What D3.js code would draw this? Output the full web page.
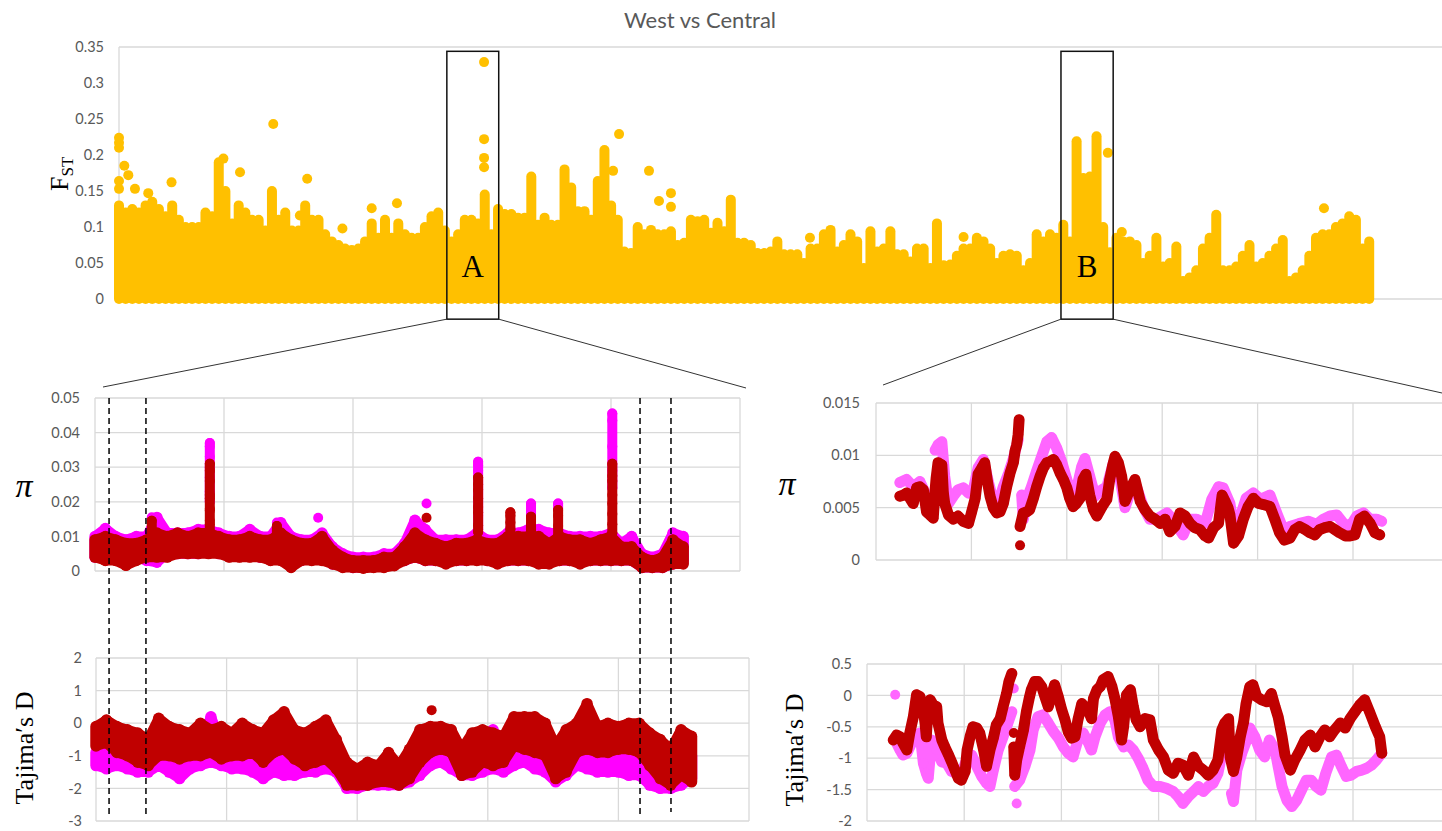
<!DOCTYPE html>
<html>
<head>
<meta charset="utf-8">
<script src="https://cdn.jsdelivr.net/npm/d3@7"></script>
<style>
  body { margin: 0; background: #fff; }
  svg { display: block; }
</style>
</head>
<body>
<svg id="chart" width="1442" height="831"></svg>
<script>
// ---------------- Data ----------------
// Genome-wide FST scan: per-window envelope (max FST in each window, window index 0..188)
const fstEnvelope = [
  0.13,0.12,0.125,0.12,0.13,0.135,0.125,0.115,0.13,0.11,
  0.1,0.1,0.1,0.12,0.115,0.19,0.15,0.105,0.13,0.12,
  0.11,0.11,0.095,0.15,0.11,0.12,0.095,0.095,0.13,0.11,
  0.11,0.09,0.08,0.075,0.07,0.068,0.07,0.08,0.105,0.085,
  0.11,0.085,0.105,0.09,0.085,0.085,0.1,0.115,0.12,0.095,
  0.08,0.09,0.11,0.11,0.105,0.145,0.09,0.125,0.118,0.118,
  0.113,0.113,0.17,0.103,0.113,0.103,0.103,0.18,0.155,0.122,
  0.122,0.11,0.164,0.207,0.13,0.11,0.066,0.064,0.1,0.09,
  0.096,0.09,0.09,0.094,0.075,0.078,0.11,0.108,0.11,0.092,
  0.106,0.094,0.138,0.078,0.078,0.075,0.064,0.064,0.066,0.08,
  0.062,0.062,0.062,0.05,0.07,0.07,0.09,0.096,0.066,0.075,
  0.09,0.08,0.043,0.094,0.066,0.07,0.094,0.062,0.062,0.052,
  0.07,0.07,0.043,0.105,0.047,0.048,0.06,0.07,0.07,0.085,
  0.08,0.07,0.05,0.06,0.062,0.06,0.04,0.05,0.09,0.08,
  0.09,0.085,0.103,0.08,0.219,0.168,0.17,0.226,0.1,0.065,
  0.085,0.08,0.08,0.075,0.05,0.06,0.085,0.045,0.05,0.073,
  0.025,0.03,0.04,0.07,0.085,0.117,0.04,0.04,0.045,0.06,
  0.075,0.045,0.05,0.06,0.07,0.082,0.025,0.03,0.04,0.06,
  0.085,0.09,0.09,0.1,0.105,0.115,0.11,0.07,0.08
];
// Isolated high-FST windows [window index, FST]
const fstOutliers = [
  [0,0.224],[0,0.217],[0,0.21],[0,0.164],[0,0.153],[0.8,0.185],[1.4,0.172],[2.4,0.153],
  [4.4,0.147],[7.9,0.162],[15.7,0.195],[18.2,0.176],[23.2,0.243],[27.2,0.116],[28.3,0.167],
  [33.6,0.098],[38,0.126],[41.8,0.133],[54.9,0.329],[54.9,0.222],[54.9,0.196],[54.9,0.183],
  [74.3,0.178],[75.2,0.229],[79.7,0.178],[81.2,0.136],[83,0.147],[83,0.128],[103.9,0.085],
  [127,0.086],[148.7,0.203],[150.8,0.093],[181.2,0.126]
];
// Highlighted regions (window index span)
const regionA = [49.3, 57.1];
const regionB = [141.65, 149.5];

// Region A: range of window values (high / low) in 8 kb bins starting at 0 kb
const binA = 8;
const piWestHiA = [0.01,0.0123,0.01,0.009,0.01,0.01,0.0155,0.011,0.011,0.011,0.012,0.012,0.011,0.01,0.01,0.012,0.01,0.01,0.014,0.01,0.009,0.009,0.011,0.007,0.005,0.004,0.004,0.004,0.005,0.005,0.008,0.0147,0.012,0.009,0.009,0.009,0.009,0.011,0.009,0.009,0.011,0.011,0.012,0.012,0.011,0.011,0.01,0.01,0.01,0.01,0.011,0.008,0.01,0.005,0.004,0.005,0.011,0.01];
const piWestLoA = [0.004,0.004,0.004,0.003,0.004,0.003,0.0025,0.005,0.005,0.005,0.005,0.006,0.005,0.005,0.005,0.005,0.004,0.004,0.004,0.002,0.003,0.004,0.004,0.002,0.0015,0.001,0.001,0.0015,0.0015,0.002,0.003,0.004,0.003,0.003,0.003,0.003,0.003,0.004,0.003,0.003,0.003,0.003,0.003,0.003,0.003,0.003,0.003,0.003,0.003,0.003,0.003,0.003,0.003,0.001,0.001,0.001,0.002,0.003];
const piCentralHiA = [0.009,0.01,0.009,0.008,0.008,0.009,0.011,0.01,0.011,0.01,0.011,0.011,0.01,0.009,0.009,0.01,0.009,0.009,0.011,0.009,0.008,0.008,0.01,0.006,0.004,0.003,0.003,0.003,0.004,0.004,0.007,0.011,0.009,0.008,0.007,0.008,0.008,0.009,0.008,0.008,0.01,0.01,0.01,0.01,0.008,0.01,0.009,0.009,0.008,0.009,0.01,0.007,0.007,0.004,0.003,0.004,0.009,0.007];
const piCentralLoA = [0.004,0.003,0.003,0.0016,0.003,0.004,0.004,0.004,0.005,0.005,0.005,0.005,0.005,0.004,0.004,0.004,0.004,0.003,0.003,0.001,0.003,0.003,0.003,0.002,0.001,0.001,0.0008,0.001,0.001,0.0015,0.003,0.004,0.003,0.003,0.002,0.003,0.003,0.003,0.003,0.002,0.003,0.003,0.003,0.002,0.002,0.003,0.003,0.002,0.003,0.003,0.003,0.003,0.003,0.001,0.001,0.001,0.002,0.002];
// Windows inside diversity peaks [kb, pi]
const piPeaksWestA = [[44,0.0155],[89,0.037],[89,0.036],[89,0.033],[89,0.03],[89,0.027],[89,0.023],[89,0.02],[141,0.014],[173,0.0154],[257,0.0195],[297,0.0316],[297,0.0305],[297,0.029],[297,0.016],[297,0.012],[322,0.0125],[338,0.0195],[338,0.0165],[359,0.0195],[359,0.018],[401,0.0455],[401,0.0435],[401,0.036],[401,0.029],[401,0.024],[416,0.01]];
const piPeaksCentralA = [[44,0.0145],[44,0.011],[89,0.031],[89,0.029],[89,0.026],[89,0.022],[89,0.021],[89,0.018],[89,0.0175],[89,0.0145],[89,0.0135],[89,0.011],[141,0.013],[141,0.011],[257,0.0154],[297,0.027],[297,0.025],[297,0.0235],[297,0.021],[297,0.0185],[297,0.017],[297,0.0132],[297,0.0113],[322,0.017],[322,0.016],[322,0.014],[322,0.012],[338,0.0157],[338,0.0133],[338,0.0115],[359,0.0176],[359,0.016],[359,0.013],[359,0.01],[401,0.031],[401,0.0275],[401,0.026],[401,0.022],[401,0.0195],[401,0.0165],[401,0.0135],[401,0.011]];
const tajWestHiA = [-0.9,-0.9,-0.9,-1.0,-1.0,-0.9,-0.8,-0.8,-0.9,-0.8,-0.6,0.2,-0.6,-0.7,-0.6,-0.7,-0.8,-0.5,-0.7,-0.8,-0.8,-0.9,-0.8,-0.9,-1.5,-1.6,-1.5,-1.5,-1.4,-1.5,-1.2,-0.8,-0.7,-0.6,-0.7,-1.0,-0.9,-0.8,-0.2,-0.8,-0.5,-0.6,-0.6,-0.7,-1.0,-0.8,-0.8,-0.7,-0.8,-0.8,-0.9,-0.8,-0.9,-1.3,-1.5,-1.5,-1.2,-1.0];
const tajWestLoA = [-1.3,-1.4,-1.3,-1.4,-1.5,-1.5,-1.3,-1.5,-1.7,-1.4,-1.3,-1.2,-1.3,-1.4,-1.4,-1.5,-1.7,-1.5,-1.6,-1.6,-1.5,-1.5,-1.4,-1.5,-2.0,-2.0,-1.9,-1.9,-1.9,-1.9,-1.8,-1.6,-1.3,-1.2,-1.4,-1.6,-1.6,-1.5,-1.4,-1.5,-1.3,-1.2,-1.4,-1.5,-1.8,-1.6,-1.3,-1.4,-1.5,-1.5,-1.5,-1.6,-1.6,-1.9,-2.0,-2.0,-1.9,-1.7];
const tajCentralHiA = [-0.1,0.1,-0.1,-0.2,-0.3,-0.5,0.15,-0.1,-0.2,-0.3,0.0,-0.2,-0.1,-0.3,0.0,-0.2,-0.3,0.1,0.35,-0.2,-0.3,-0.1,0.1,-0.5,-1.2,-1.4,-1.2,-1.3,-0.9,-1.3,-0.8,-0.2,-0.1,-0.1,-0.2,-0.8,-0.3,-0.2,-0.3,-0.4,0.2,0.2,0.2,0.0,-0.7,-0.2,0.0,0.6,-0.1,0.0,-0.1,0.0,0.0,-0.3,-0.5,-0.8,-0.2,-0.4];
const tajCentralLoA = [-0.7,-0.6,-0.9,-1.0,-1.2,-1.3,-1.0,-1.0,-1.1,-1.0,-1.0,-0.9,-1.1,-1.0,-1.0,-0.9,-1.2,-0.9,-0.8,-1.1,-1.3,-1.2,-1.1,-1.4,-1.9,-1.9,-1.9,-1.8,-1.8,-1.9,-1.7,-1.2,-0.9,-0.8,-0.9,-1.6,-1.5,-1.2,-1.3,-1.2,-0.7,-0.8,-0.9,-1.0,-1.7,-1.5,-0.9,-0.8,-0.9,-0.9,-0.8,-0.8,-0.9,-1.3,-1.7,-1.9,-1.6,-1.8];
const tajPeaksCentralA = [[257,0.4]];
// Sweep boundaries marked in region A (kb)
const sweepMarksA = [10.9, 39.5, 422.5, 446.5];

// Region B: [kb, value] along each chain, plus isolated windows
const piWestB = [[25,0.0074],[32,0.0077],[39,0.007],[46,0.0075],[53,0.0061],[58,0.0051],[62,0.0105],[65,0.011],[69,0.0113],[72,0.008],[76,0.0054],[81,0.0061],[86,0.0067],[91.5,0.0069],[97,0.0064],[102,0.0067],[107,0.0088],[112.5,0.0096],[118,0.0074],[123,0.0056],[128,0.0054],[133.5,0.007],[139,0.0083],[144,0.0097],[149,0.0115],[152.7,0.0062],[154.4,0.0039],[158,0.0058],[163,0.007],[168.4,0.0085],[173.7,0.0099],[179,0.0113],[184,0.0117],[189.4,0.0107],[194.6,0.0094],[200,0.0077],[205,0.0062],[210,0.0067],[215.6,0.0089],[219,0.0097],[224,0.008],[229.6,0.0061],[235,0.0066],[242,0.007],[248.8,0.0093],[256,0.0077],[261,0.005],[268,0.0069],[273,0.007],[280,0.0051],[287,0.0039],[294,0.0039],[305,0.0045],[311,0.0039],[322,0.0024],[329,0.0039],[336,0.0039],[345,0.0035],[352,0.0058],[359,0.007],[364,0.0069],[371,0.0054],[374.8,0.0032],[382,0.0042],[388,0.0059],[395.6,0.0064],[403,0.0058],[413,0.0062],[420,0.0045],[427,0.0029],[434,0.0032],[444,0.0035],[453,0.0037],[462,0.0034],[469,0.0039],[476,0.0042],[483,0.0043],[490,0.0035],[497,0.0032],[504,0.0042],[511,0.0045],[518,0.0039],[525,0.0039],[530,0.0037]];
const piCentralB = [[25,0.0061],[28.7,0.0062],[32,0.0064],[35.6,0.0059],[39,0.0054],[42.6,0.0069],[46,0.007],[49.6,0.0067],[53,0.0046],[56.6,0.0043],[60,0.004],[62,0.0067],[63,0.0078],[65,0.0093],[67,0.0092],[69,0.0091],[70.6,0.0064],[72,0.0054],[76,0.0043],[81,0.0039],[86,0.0042],[91.5,0.0037],[97,0.0035],[100,0.0045],[104,0.0059],[107,0.0082],[111,0.0088],[114,0.0093],[117,0.0074],[119.5,0.0061],[123,0.005],[126.5,0.0045],[130,0.0046],[133.5,0.0054],[137,0.007],[140.5,0.0083],[144,0.0093],[145.7,0.0104],[147.5,0.011],[149,0.012],[150,0.0134],[151,0.0032],[154.4,0.0045],[158,0.0046],[161,0.0048],[165,0.0059],[168.4,0.007],[172,0.008],[175.4,0.0088],[179,0.0093],[182.4,0.0094],[186,0.0096],[189.4,0.0091],[193,0.0083],[196.4,0.0077],[200,0.0069],[203,0.0059],[206.6,0.0051],[210,0.0054],[213.8,0.0059],[217,0.0077],[220,0.0082],[224,0.0062],[228,0.0048],[231.5,0.0042],[237,0.0051],[242,0.0058],[245,0.0077],[248,0.009],[250.5,0.0099],[254,0.0093],[257.5,0.008],[259,0.007],[261,0.0056],[266,0.0067],[271.5,0.0077],[277,0.0056],[282,0.0048],[287,0.0042],[292.5,0.0039],[298,0.0035],[303,0.0039],[308,0.0027],[313.4,0.0032],[318.7,0.0045],[324,0.0042],[329,0.0035],[334,0.0031],[339.6,0.0029],[345,0.0023],[348.6,0.0021],[354,0.0031],[359,0.0035],[362.8,0.0062],[366,0.0056],[369,0.005],[371,0.0043],[374.8,0.0016],[380,0.0023],[385,0.0039],[390,0.0051],[395.6,0.0059],[401,0.0054],[406,0.0053],[413,0.0051],[418,0.0039],[423,0.0026],[428,0.0019],[434,0.0021],[439,0.0029],[444,0.0032],[450,0.0029],[455,0.0026],[460,0.0024],[465,0.0029],[470.6,0.0031],[476,0.0032],[481,0.0029],[486,0.0026],[492,0.0023],[497,0.0023],[502,0.0024],[507,0.0039],[512,0.0042],[518,0.0035],[523,0.0026],[528,0.0024]];
const piCentralSinglesB = [[151,0.0014]];
const tajWestB = [[30.5,-0.76],[34,-0.87],[37,-0.95],[41,-0.92],[44,-0.82],[49,-0.66],[54.5,-0.6],[58,-1.08],[61,-1.24],[63,-1.32],[66.5,-0.71],[71.7,-0.87],[77,-1.06],[82,-1.08],[87,-1.21],[92,-1.24],[97,-1.24],[102.5,-1.03],[107.7,-0.95],[113,-1.13],[118,-1.29],[123,-1.4],[126.5,-1.45],[130,-1.19],[135,-0.87],[140,-0.66],[145,-0.44],[149,-0.26],[152,-1.45],[157,-1.35],[162.5,-1.13],[167.7,-0.87],[171,-0.55],[176,-0.34],[181,-0.31],[186.5,-0.44],[192,-0.58],[197,-0.68],[202,-0.82],[207,-0.92],[212,-0.98],[217,-0.71],[222.5,-0.6],[228,-0.76],[231,-0.87],[234.6,-0.66],[240,-0.44],[245,-0.31],[250,-0.26],[255,-0.39],[258.6,-0.66],[264,-0.82],[269,-0.79],[274,-0.87],[279,-1.0],[284,-1.16],[289,-1.35],[294.6,-1.45],[301.5,-1.45],[308,-1.48],[315,-1.53],[320,-1.61],[325,-1.72],[330.6,-1.61],[336,-1.53],[341,-1.45],[346,-1.53],[351,-1.45],[356,-1.4],[361,-1.24],[366,-0.87],[371,-0.92],[375,-1.56],[377,-1.69],[380.5,-1.19],[385.6,-0.92],[390.6,-0.71],[394,-0.52],[399,-0.66],[404,-0.87],[409,-0.98],[414,-0.71],[419.8,-0.87],[423,-1.13],[427,-1.45],[432,-1.67],[437,-1.77],[442,-1.67],[447,-1.51],[452,-1.35],[457,-1.35],[462,-1.45],[467,-1.51],[472,-1.24],[478,-0.98],[483,-0.95],[488,-1.13],[493,-1.29],[498,-1.27],[503.8,-1.21],[509,-1.19],[514,-1.16],[519,-1.11],[524,-1.03],[529.6,-0.92]];
const tajWestSinglesB = [[29,0.01],[151,0.11],[154,-1.72]];
const tajCentralB = [[27,-0.71],[30.5,-0.63],[34,-0.66],[37,-0.76],[41,-0.87],[44,-0.6],[47.7,-0.34],[51,0.01],[54.5,-0.02],[58,-0.23],[59.7,-0.44],[61,-0.66],[63,-0.13],[65,-0.07],[68,-0.15],[71.7,-0.18],[73,-0.44],[77,-0.71],[80,-0.82],[84,-0.95],[87,-1.06],[90.5,-1.19],[94,-1.32],[97,-1.35],[101,-1.21],[103,-0.87],[106,-0.66],[109,-0.5],[113,-0.52],[116,-0.6],[120,-0.87],[123,-1.13],[126.5,-0.87],[130,-0.68],[133,-0.47],[137,-0.37],[140,-0.18],[143.6,0.03],[146,0.22],[149,0.35],[151,-0.82],[152,-1.27],[154,-1.03],[157,-0.82],[161,-0.55],[164,-0.26],[166.8,-0.05],[169,0.09],[172.5,0.22],[176,0.22],[179.7,0.14],[183,-0.02],[186.5,-0.18],[190,0.01],[193,0.17],[196.8,-0.02],[200,-0.21],[203.7,-0.39],[207,-0.58],[210.5,-0.68],[214,-0.66],[217,-0.39],[221,-0.13],[224,-0.18],[228,-0.26],[231,-0.37],[233,-0.05],[236.6,0.09],[240,0.14],[243,0.25],[248,0.3],[252,0.14],[255,-0.05],[258.6,-0.34],[262,-0.71],[264,-0.5],[267,0.01],[271,0.09],[274,-0.18],[277,-0.39],[281,-0.5],[286,-0.37],[291,-0.39],[294.6,-0.71],[300,-0.87],[305,-0.98],[310,-1.19],[315,-1.24],[320,-1.08],[325,-1.11],[330.6,-1.27],[336,-0.98],[341,-1.13],[346,-1.19],[351,-1.27],[356,-1.19],[361,-1.03],[365,-0.55],[368,-0.44],[372,-0.37],[373.6,-0.98],[377,-1.21],[380.5,-0.98],[384,-0.66],[387.5,-0.42],[390,-0.13],[393.8,0.14],[397,0.17],[401,-0.02],[406,-0.07],[411,-0.1],[416,0.03],[419.8,-0.18],[423,-0.34],[427,-0.66],[430,-0.95],[435.6,-1.19],[440,-1.03],[445.6,-0.87],[450.6,-0.71],[456,-0.63],[461,-0.82],[466,-0.66],[471,-0.55],[476,-0.66],[481,-0.55],[487,-0.44],[492,-0.52],[497,-0.37],[502,-0.26],[507,-0.15],[512,-0.07],[517,-0.26],[523,-0.5],[527.5,-0.66],[529.6,-0.92]];
const tajCentralSinglesB = [[151,-0.6]];

// Axis ticks
const fstTicks = [0, 0.05, 0.1, 0.15, 0.2, 0.25, 0.3, 0.35];
const piTicksA = [0, 0.01, 0.02, 0.03, 0.04, 0.05];
const tajTicksA = [-3, -2, -1, 0, 1, 2];
const piTicksB = [0, 0.005, 0.01, 0.015];
const tajTicksB = [-2, -1.5, -1, -0.5, 0, 0.5];
const posTicksA = [0, 100, 200, 300, 400, 500];
const posTicksB = [0, 100, 200, 300, 400, 500, 600];

// ---------------- Style ----------------
const C = {
  fst: "#FFC000", west: "#FF00FF", westLight: "#FF66FF", central: "#C00000",
  grid: "#D9D9D9", tick: "#595959", ink: "#000000"
};
const SANS = "Lato, 'Liberation Sans', sans-serif";
const SERIF = "'Liberation Serif', 'DejaVu Serif', serif";
const R = 5; // marker radius

const svg = d3.select("#chart");
const W = 1442;

// ---------------- Helpers ----------------
function leftLabels(x0, y, ticks, pad) {
  const g = svg.append("g").attr("transform", `translate(${x0},0)`)
    .call(d3.axisLeft(y).tickValues(ticks).tickFormat(String).tickSize(0).tickPadding(pad));
  g.select(".domain").remove();
  g.selectAll("text").attr("fill", C.tick).attr("font-family", SANS).attr("font-size", 14.5);
  return g;
}

function grid(x, y, xTicks, yTicks) {
  const [xa, xb] = x.range();
  const [yb, ya] = y.range();
  const g = svg.append("g").attr("stroke", C.grid).attr("stroke-width", 1.3);
  g.selectAll(".h").data(yTicks).join("line")
    .attr("x1", xa).attr("x2", Math.min(xb, W + 5))
    .attr("y1", d => y(d)).attr("y2", d => y(d));
  g.selectAll(".v").data(xTicks.filter(t => x(t) <= W + 2)).join("line")
    .attr("x1", d => x(d)).attr("x2", d => x(d))
    .attr("y1", ya).attr("y2", yb);
}

function dots(g, data, x, y, color) {
  g.append("g").attr("fill", color)
    .selectAll("circle").data(data).join("circle")
    .attr("cx", d => x(d[0])).attr("cy", d => y(d[1])).attr("r", R);
}

// Densely overlapping markers of consecutive windows: a marker-wide stroke
// joins neighbours, broken where the gap (in px) is too large.
function chain(data, x, y, color, maxDx, maxDist, width = 2 * R) {
  const g = svg.append("g");
  const runs = [];
  let cur = [];
  data.forEach((d, i) => {
    if (i > 0) {
      const p = data[i - 1];
      const dx = Math.abs(x(d[0]) - x(p[0]));
      const dist = Math.hypot(dx, y(d[1]) - y(p[1]));
      if (dx > maxDx || dist > maxDist) { runs.push(cur); cur = []; }
    }
    cur.push(d);
  });
  runs.push(cur);
  const line = d3.line().x(d => x(d[0])).y(d => y(d[1]));
  g.append("g").attr("fill", "none").attr("stroke", color).attr("stroke-width", width)
    .attr("stroke-linecap", "round").attr("stroke-linejoin", "round")
    .selectAll("path").data(runs.filter(r => r.length > 1)).join("path")
    .attr("d", line);
  dots(g, data, x, y, color);
}

// Dense cloud of windows: each bin spans its low..high values with marker-wide
// columns; the upper and lower edges are traced with overlapping markers.
function band(hi, lo, step, x, y, color) {
  const g = svg.append("g");
  const bins = hi.map((h, k) => ({ p: k * step, hi: h, lo: lo[k] }));
  const colW = Math.abs(x(step) - x(0)) + 1;
  // filled body between the traced edges
  g.append("path").attr("fill", color)
    .attr("d", d3.area().x(d => x(d.p)).y0(d => y(d.lo)).y1(d => y(d.hi))(bins));
  g.append("g").attr("stroke", color).attr("stroke-width", Math.max(2 * R, colW)).attr("stroke-linecap", "round")
    .selectAll("line").data(bins).join("line")
    .attr("x1", d => x(d.p)).attr("x2", d => x(d.p))
    .attr("y1", d => y(d.lo)).attr("y2", d => y(d.hi));
  const edge = d3.line().x(d => x(d[0])).y(d => y(d[1]));
  g.append("g").attr("fill", "none").attr("stroke", color).attr("stroke-width", 2 * R)
    .attr("stroke-linejoin", "round").attr("stroke-linecap", "round")
    .selectAll("path").data([bins.map(d => [d.p, d.hi]), bins.map(d => [d.p, d.lo])]).join("path")
    .attr("d", edge);
  dots(g, bins.map(d => [d.p, d.hi]).concat(bins.map(d => [d.p, d.lo])), x, y, color);
}

// ---------------- Title ----------------
svg.append("text").attr("x", 700).attr("y", 28).attr("text-anchor", "middle")
  .attr("font-family", SANS).attr("font-size", 22).attr("fill", C.tick)
  .text("West vs Central");

// ---------------- Genome-wide FST ----------------
const xFst = d3.scaleLinear().domain([0, 200]).range([119, 1449]);
const yFst = d3.scaleLinear().domain([0, 0.35]).range([299, 47]);

const frame = svg.append("g").attr("stroke", C.grid).attr("stroke-width", 1.3);
frame.append("line").attr("x1", xFst(0)).attr("x2", W).attr("y1", yFst(0.35)).attr("y2", yFst(0.35));
frame.append("line").attr("x1", xFst(0)).attr("x2", W).attr("y1", yFst(0)).attr("y2", yFst(0));
frame.append("line").attr("x1", xFst(0)).attr("x2", xFst(0)).attr("y1", yFst(0.35)).attr("y2", yFst(0));
leftLabels(xFst(0), yFst, fstTicks, 15);

svg.append("g").attr("stroke", C.fst).attr("stroke-width", 2 * R).attr("stroke-linecap", "round")
  .selectAll("line").data(fstEnvelope).join("line")
  .attr("x1", (d, i) => xFst(i)).attr("x2", (d, i) => xFst(i))
  .attr("y1", yFst(0)).attr("y2", d => yFst(d));
dots(svg, fstOutliers, xFst, yFst, C.fst);

const fLabel = svg.append("text").attr("transform", "translate(68,191) rotate(-90)")
  .attr("font-family", SERIF).attr("font-size", 26).attr("fill", C.ink);
fLabel.append("tspan").text("F");
fLabel.append("tspan").attr("font-size", 17).attr("dy", 5).text("ST");

// region boxes + zoom connectors
const boxTop = yFst(0.344), boxBottom = yFst(-0.028);
[[regionA, "A"], [regionB, "B"]].forEach(([r, name]) => {
  svg.append("rect").attr("x", xFst(r[0])).attr("y", boxTop)
    .attr("width", xFst(r[1]) - xFst(r[0])).attr("height", boxBottom - boxTop)
    .attr("fill", "none").attr("stroke", "#111").attr("stroke-width", 1.5);
  svg.append("text").attr("x", (xFst(r[0]) + xFst(r[1])) / 2).attr("y", 277)
    .attr("text-anchor", "middle").attr("font-family", SERIF).attr("font-size", 31)
    .attr("fill", C.ink).text(name);
});
const conn = svg.append("g").attr("stroke", "#333").attr("stroke-width", 1);
conn.append("line").attr("x1", xFst(regionA[0])).attr("y1", boxBottom).attr("x2", 103).attr("y2", 387);
conn.append("line").attr("x1", xFst(regionA[1])).attr("y1", boxBottom).attr("x2", 746).attr("y2", 388);
conn.append("line").attr("x1", xFst(regionB[0])).attr("y1", boxBottom).attr("x2", 883).attr("y2", 385);
conn.append("line").attr("x1", xFst(regionB[1])).attr("y1", boxBottom).attr("x2", 1442).attr("y2", 393);

// ---------------- Region A: pi ----------------
const xPiA = d3.scaleLinear().domain([0, 500]).range([95, 740]);
const yPiA = d3.scaleLinear().domain([0, 0.05]).range([571, 398]);
grid(xPiA, yPiA, posTicksA, piTicksA);
leftLabels(95, yPiA, piTicksA, 15);
band(piWestHiA, piWestLoA, binA, xPiA, yPiA, C.west);
chain(piPeaksWestA, xPiA, yPiA, C.west, 1, 60);
band(piCentralHiA, piCentralLoA, binA, xPiA, yPiA, C.central);
chain(piPeaksCentralA, xPiA, yPiA, C.central, 1, 60);

// ---------------- Region A: Tajima's D ----------------
const xTajA = d3.scaleLinear().domain([0, 500]).range([96, 749]);
const yTajA = d3.scaleLinear().domain([-3, 2]).range([821, 658]);
grid(xTajA, yTajA, posTicksA, tajTicksA);
leftLabels(96, yTajA, tajTicksA, 14);
band(tajWestHiA, tajWestLoA, binA, xTajA, yTajA, C.west);
band(tajCentralHiA, tajCentralLoA, binA, xTajA, yTajA, C.central);
dots(svg, tajPeaksCentralA, xTajA, yTajA, C.central);

// sweep boundary markers
svg.append("g").attr("stroke", "#000").attr("stroke-width", 1.5).attr("stroke-dasharray", "6,4")
  .selectAll("line").data(sweepMarksA).join("line")
  .attr("x1", d => xPiA(d)).attr("x2", d => xPiA(d))
  .attr("y1", yPiA(0.05)).attr("y2", (d, i) => [817, 814, 817, 812][i]);

// ---------------- Region B: pi ----------------
const xPiB = d3.scaleLinear().domain([0, 600]).range([876, 1448.4]);
const yPiB = d3.scaleLinear().domain([0, 0.015]).range([560, 403]);
grid(xPiB, yPiB, posTicksB, piTicksB);
leftLabels(876, yPiB, piTicksB, 16);
chain(piWestB, xPiB, yPiB, C.westLight, 12, 40, 11);
chain(piCentralB, xPiB, yPiB, C.central, 12, 40, 11);
dots(svg, piCentralSinglesB, xPiB, yPiB, C.central);

// ---------------- Region B: Tajima's D ----------------
const xTajB = d3.scaleLinear().domain([0, 600]).range([867, 1450.2]);
const yTajB = d3.scaleLinear().domain([-2, 0.5]).range([821, 664]);
grid(xTajB, yTajB, posTicksB, tajTicksB);
leftLabels(867, yTajB, tajTicksB, 15);
chain(tajWestB, xTajB, yTajB, C.westLight, 12, 40, 11);
dots(svg, tajWestSinglesB, xTajB, yTajB, C.westLight);
chain(tajCentralB, xTajB, yTajB, C.central, 12, 40, 11);
dots(svg, tajCentralSinglesB, xTajB, yTajB, C.central);

// ---------------- Panel titles ----------------
[[24, 497], [787, 495]].forEach(([x, y]) => {
  svg.append("text").attr("x", x).attr("y", y).attr("text-anchor", "middle")
    .attr("font-family", SERIF).attr("font-style", "italic").attr("font-size", 34)
    .attr("fill", C.ink).text("π");
});
[[33, 748], [803, 750]].forEach(([x, y]) => {
  svg.append("text").attr("transform", `translate(${x},${y}) rotate(-90)`)
    .attr("text-anchor", "middle").attr("font-family", SERIF).attr("font-size", 26)
    .attr("fill", C.ink).text("Tajima\u2032s D");
});
</script>
</body>
</html>
